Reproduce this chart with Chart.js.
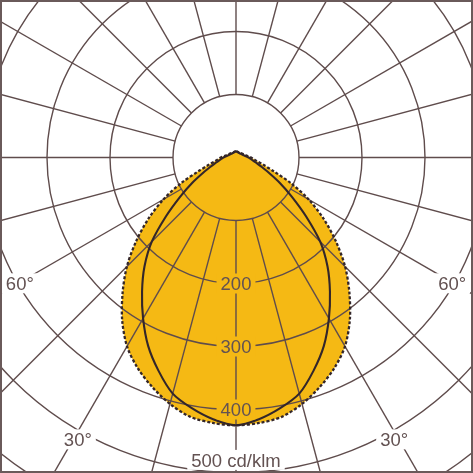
<!DOCTYPE html>
<html><head><meta charset="utf-8">
<script src="https://cdn.jsdelivr.net/npm/chart.js@4.4.0/dist/chart.umd.min.js"></script>
<style>html,body{margin:0;padding:0;background:#fff;overflow:hidden}#wrap{width:473px;height:473px;position:relative}canvas{display:block}</style>
</head><body><div id="wrap"><canvas id="c" width="473" height="473"></canvas></div>
<script>
// ---- data (angles from nadir, degrees; intensities in cd/klm) ----
const angles   = [0,5,10,15,20,25,30,35,40,45,50,55,60,65,70,75,80,85,90,105,120,135,150,165,180];
const valuesC90 = [425,423,418,405,388,369,346,315,280,245,207,170,133,96,63,45,34,28,24,15,12,10,9.5,9.5,10.3];
const valuesC0  = [425,417,404,388,360,330,295,260,226,189,145,108,80,58,43,34,27,23,20,13,10.5,9,8.7,9,10.3];
const ringValues = [100,200,300,400,500,600,700];
const ringLabelValues = [200,300,400];
const ringLabelTexts = ['200','300','400'];
const unitLabel = '500 cd/klm';
const angleLabelDegrees = [60,30];
const angleLabelTexts = ['60°','30°'];
const spokeStepDeg = 15;

const ORANGE = '#F5B914';
const GRID = '#5f4c4c';
const TEXT = '#635252';
const CURVE = '#33262a';
const FONT = '18.5px "Liberation Sans", Arial, sans-serif';

function toXY(vals){
  const pts = [];
  for (let i = angles.length - 1; i >= 0; i--) {
    const t = angles[i] * Math.PI / 180;
    pts.push({x: -vals[i] * Math.sin(t), y: -vals[i] * Math.cos(t)});
  }
  for (let i = 1; i < angles.length; i++) {
    const t = angles[i] * Math.PI / 180;
    pts.push({x: vals[i] * Math.sin(t), y: -vals[i] * Math.cos(t)});
  }
  return pts;
}

const PX = 0.63; // pixels per cd/klm (only to set axis ranges)
const xMin = -236 / PX, xMax = 237 / PX, yMax = 157.5 / PX, yMin = -(473 - 157.5) / PX;

const polarGrid = {
  id: 'polarGrid',
  beforeDatasetsDraw(chart) {
    const ctx = chart.ctx, xs = chart.scales.x, ys = chart.scales.y;
    const cx = xs.getPixelForValue(0), cy = ys.getPixelForValue(0);
    const u = xs.getPixelForValue(100) - cx;
    // lobe fill from dataset 0 path
    const meta = chart.getDatasetMeta(0);
    try { meta.dataset.updateControlPoints(chart.chartArea, 'x'); } catch (e) {}
    ctx.save();
    ctx.beginPath();
    meta.dataset.path(ctx);
    ctx.closePath();
    ctx.fillStyle = ORANGE;
    ctx.fill();
    ctx.restore();
    // grid
    ctx.save();
    ctx.strokeStyle = GRID;
    ctx.lineWidth = 1.4;
    for (const r of ringValues) {
      ctx.beginPath();
      ctx.arc(cx, cy, r / 100 * u, 0, Math.PI * 2);
      ctx.stroke();
    }
    for (let a = 0; a < 360; a += spokeStepDeg) {
      const t = a * Math.PI / 180;
      const p1 = {x: xs.getPixelForValue(100 * Math.sin(t)), y: ys.getPixelForValue(-100 * Math.cos(t))};
      const p2 = {x: xs.getPixelForValue(900 * Math.sin(t)), y: ys.getPixelForValue(-900 * Math.cos(t))};
      ctx.beginPath();
      ctx.moveTo(p1.x, p1.y);
      ctx.lineTo(p2.x, p2.y);
      ctx.stroke();
    }
    ctx.restore();
  },
  afterDatasetsDraw(chart) {
    const ctx = chart.ctx, xs = chart.scales.x, ys = chart.scales.y;
    ctx.save();
    ctx.font = FONT;
    const label = (text, px, py, bg) => {
      const w = ctx.measureText(text).width;
      ctx.fillStyle = bg;
      ctx.fillRect(px - w / 2 - 4, py - 10, w + 8, 20);
      ctx.fillStyle = TEXT;
      ctx.textAlign = 'center';
      ctx.textBaseline = 'alphabetic';
      ctx.fillText(text, px, py + 6.6);
    };
    ringLabelValues.forEach((v, i) => {
      label(ringLabelTexts[i], xs.getPixelForValue(0), ys.getPixelForValue(-v), v < valuesC0[0] ? ORANGE : '#fff');
    });
    label(unitLabel, xs.getPixelForValue(0), ys.getPixelForValue(-480), '#fff');
    angleLabelDegrees.forEach((d, i) => {
      const r = d === 60 ? 397 : 513;
      const t = (d === 60 ? 59.8 : 29.3) * Math.PI / 180;
      for (const s of [-1, 1]) {
        label(angleLabelTexts[i], xs.getPixelForValue(s * r * Math.sin(t)), ys.getPixelForValue(-r * Math.cos(t)), '#fff');
      }
    });
    ctx.restore();
  },
  afterDraw(chart) {
    const ctx = chart.ctx;
    ctx.save();
    ctx.strokeStyle = '#6a5a5a';
    ctx.lineWidth = 2;
    ctx.strokeRect(1, 1, chart.width - 2, chart.height - 2);
    ctx.restore();
  }
};

new Chart(document.getElementById('c'), {
  type: 'scatter',
  data: {
    datasets: [
      {label: 'C90-C270', data: toXY(valuesC90), showLine: true, borderColor: CURVE, borderWidth: 2.3,
       borderDash: [3, 2], pointRadius: 0, tension: 0.3, fill: false},
      {label: 'C0-C180', data: toXY(valuesC0), showLine: true, borderColor: CURVE, borderWidth: 2.1,
       pointRadius: 0, tension: 0.3, fill: false}
    ]
  },
  options: {
    responsive: false,
    animation: false,
    devicePixelRatio: 1,
    layout: {padding: 0},
    scales: {
      x: {type: 'linear', min: xMin, max: xMax, display: false},
      y: {type: 'linear', min: yMin, max: yMax, display: false}
    },
    plugins: {legend: {display: false}, tooltip: {enabled: false}}
  },
  plugins: [polarGrid]
});
</script></body></html>
